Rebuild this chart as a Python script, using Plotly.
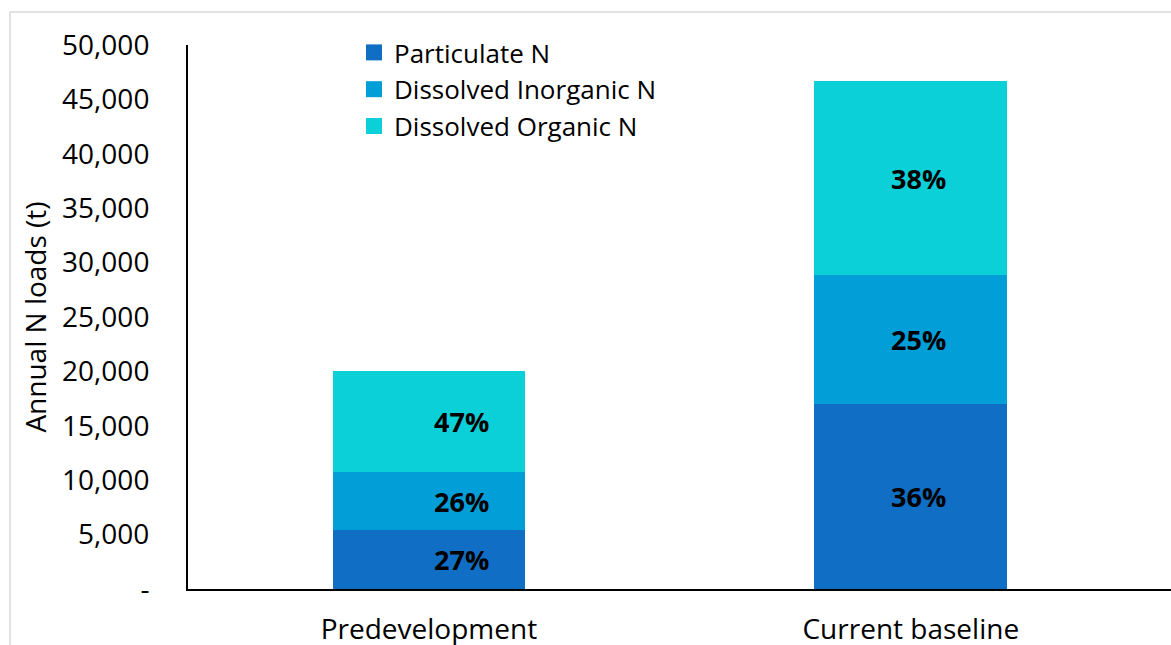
import plotly.graph_objects as go

categories = ["Predevelopment", "Current baseline"]
series_names = ["Particulate N", "Dissolved Inorganic N", "Dissolved Organic N"]
particulate_n = [5400, 17000]
dissolved_inorganic_n = [5350, 11850]
dissolved_organic_n = [9300, 17800]
pct_particulate = ["27%", "36%"]
pct_inorganic = ["26%", "25%"]
pct_organic = ["47%", "38%"]
ytick_vals = [0, 5000, 10000, 15000, 20000, 25000, 30000, 35000, 40000, 45000, 50000]
ytick_text = ["-", "5,000", "10,000", "15,000", "20,000", "25,000", "30,000",
              "35,000", "40,000", "45,000", "50,000"]

colors = ["#106FC4", "#019ED8", "#0CD0D8"]
FONT = "Open Sans"

series = [particulate_n, dissolved_inorganic_n, dissolved_organic_n]
labels = [pct_particulate, pct_inorganic, pct_organic]

fig = go.Figure()
for name, vals, col in zip(series_names, series, colors):
    fig.add_trace(go.Bar(x=categories, y=vals, name=name, marker=dict(color=col, line=dict(width=0)),
                         width=0.4, showlegend=False, hoverinfo="y+name"))
# legend entries with larger square markers
for name, col in zip(series_names, colors):
    fig.add_trace(go.Scatter(x=[None], y=[None], mode="markers", name=name,
                             marker=dict(symbol="square", size=18, color=col)))

# percentage labels
xshift = [33, 8]
annotations = []
for i, cat in enumerate(categories):
    base = 0
    for vals, lab in zip(series, labels):
        mid = base + vals[i] / 2
        annotations.append(dict(x=cat, y=mid, text=lab[i], showarrow=False, xshift=xshift[i],
                                font=dict(family=FONT, size=27, color="black", weight="bold")))
        base += vals[i]

fig.update_layout(
    width=1171, height=645,
    margin=dict(l=188, r=0, t=45, b=56),
    paper_bgcolor="white", plot_bgcolor="white",
    barmode="stack",
    font=dict(family=FONT, size=28, color="black"),
    legend=dict(x=(354 - 188) / 983, y=(589 - 29) / 544, xanchor="left", yanchor="top",
                bgcolor="rgba(0,0,0,0)", font=dict(size=26, family=FONT), tracegroupgap=0,
                traceorder="normal", itemwidth=30),
    annotations=annotations,
    shapes=[dict(type="rect", xref="paper", yref="paper",
                 x0=(10 - 188) / 983, x1=1.2, y0=-0.3, y1=(589 - 12) / 544,
                 line=dict(color="#D9D9D9", width=1.5), fillcolor="rgba(0,0,0,0)", layer="below")],
    xaxis=dict(range=[-0.5, 1.54], showline=True, linecolor="black", linewidth=2,
               showgrid=False, ticks="", tickfont=dict(size=28, family=FONT),
               ticklabelstandoff=14, fixedrange=True, automargin=False),
    yaxis=dict(range=[0, 50000], tickvals=ytick_vals, ticktext=ytick_text,
               showline=True, linecolor="black", linewidth=2, showgrid=False, zeroline=False,
               ticks="", tickfont=dict(size=28, family=FONT), ticklabelstandoff=31,
               title=dict(text="Annual N loads (t)", font=dict(size=28, family=FONT), standoff=7),
               fixedrange=True, automargin=False),
)

fig.write_html("out.html", config={"displayModeBar": False},
               post_script="document.body.style.margin='0px';")
